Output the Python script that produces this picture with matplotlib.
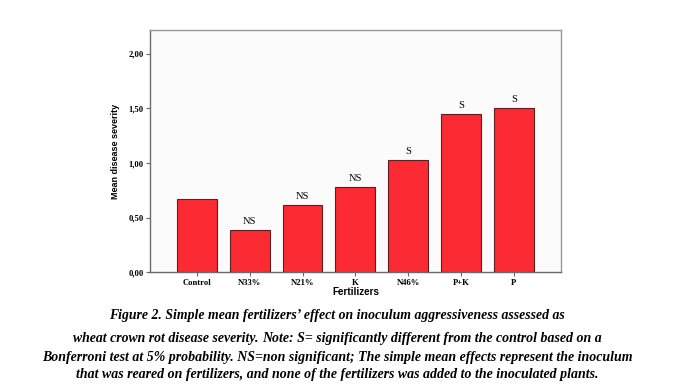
import matplotlib
matplotlib.use('Agg')
import matplotlib.pyplot as plt

categories = ["Control", "N33%", "N21%", "K", "N46%", "P+K", "P"]
values = [0.667, 0.385, 0.612, 0.777, 1.025, 1.447, 1.505]
sig_labels = ["", "NS", "NS", "NS", "S", "S", "S"]
ytick_vals = [0.0, 0.5, 1.0, 1.5, 2.0]
ytick_labels = ["0,00", "0,50", "1,00", "1,50", "2,00"]
ylabel = "Mean disease severity"
xlabel = "Fertilizers"
caption_lines = [
    [("Figure 2. Simple mean fertilizers\u2019 effect on inoculum aggressiveness assessed as", "L")],
    [("wheat crown rot disease severity. ", "L"),
     ("Note: S= significantly different from the control based on a", "S")],
    [("Bonferroni test at 5% probability. NS=non significant; The simple mean effects represent the inoculum", "S")],
    [("that was reared on fertilizers, and none of the fertilizers was added to the inoculated plants.", "S")],
]

W, H = 674, 392
fig = plt.figure(figsize=(W / 100, H / 100), dpi=100)
fig.patch.set_facecolor('white')
renderer = fig.canvas.get_renderer()

left, right, top, bottom = 150, 561, 29.7, 272.3
ax = fig.add_axes([left / W, 1 - bottom / H, (right - left) / W, (bottom - top) / H])
ax.set_facecolor('#fbfbfb')

x = list(range(len(categories)))
ax.bar(x, values, width=0.755, color='#fc2a33', edgecolor='#5e1f1f', linewidth=0.8, zorder=3)
ax.set_xlim(-0.885, len(categories) - 1 + 0.89)
ax.set_ylim(0, 2.22)

serif = ['Liberation Serif', 'DejaVu Serif']
for xi, v, s in zip(x, values, sig_labels):
    if s:
        ax.annotate(s, (xi, v), xytext=(0, 3), textcoords='offset points',
                    ha='center', va='bottom', fontsize=7.5, family=serif)

ax.set_yticks(ytick_vals)
ax.set_yticklabels(ytick_labels, family=serif, fontweight='bold', fontsize=6.2)
ax.set_xticks(x)
ax.set_xticklabels(categories, family=serif, fontweight='bold', fontsize=6.2)
ax.tick_params(axis='both', length=3, width=0.8, color='#666666', pad=1.5)

for side in ['left', 'bottom']:
    ax.spines[side].set_color('#6a6a6a')
    ax.spines[side].set_linewidth(1.0)
for side in ['top', 'right']:
    ax.spines[side].set_color('#9a9a9a')
    ax.spines[side].set_linewidth(1.0)


def width_px(s, size, **kw):
    t = fig.text(0, 0, s, fontsize=size, **kw)
    w = t.get_window_extent(renderer).width
    t.remove()
    return w


ylab_font = dict(family=['Liberation Sans Narrow', 'Liberation Sans', 'DejaVu Sans'], fontweight='bold')
ylab_size = 10 * 96 / width_px(ylabel, 10, **ylab_font)
fig.text(115.5 / W, 1 - 151 / H, ylabel, rotation=90, ha='center', va='center',
         fontsize=ylab_size, **ylab_font)

xlab_font = dict(family=['Liberation Sans', 'DejaVu Sans'], fontweight='bold')
xlab_size = 10 * 47 / width_px(xlabel, 10, **xlab_font)
fig.text(356 / W, 1 - 292 / H, xlabel, ha='center', va='center',
         fontsize=xlab_size, **xlab_font)

# caption: fit font sizes to measured line widths
cap_font = dict(family=serif, fontweight='bold', fontstyle='italic')
size_L = 10 * 452 / width_px(caption_lines[0][0][0], 10, **cap_font)
size_S = 10 * 593 / width_px(caption_lines[2][0][0], 10, **cap_font)
sizes = {"L": size_L, "S": size_S}
baselines = [319.5, 342.0, 361.5, 378.0]

for line, yb in zip(caption_lines, baselines):
    widths = [width_px(s, sizes[k], **cap_font) for s, k in line]
    total = sum(widths)
    xpos = W / 2 - total / 2
    for (s, k), w in zip(line, widths):
        fig.text(xpos / W, 1 - yb / H, s, fontsize=sizes[k], ha='left', va='baseline', **cap_font)
        xpos += w

fig.savefig('out.png', dpi=100)
